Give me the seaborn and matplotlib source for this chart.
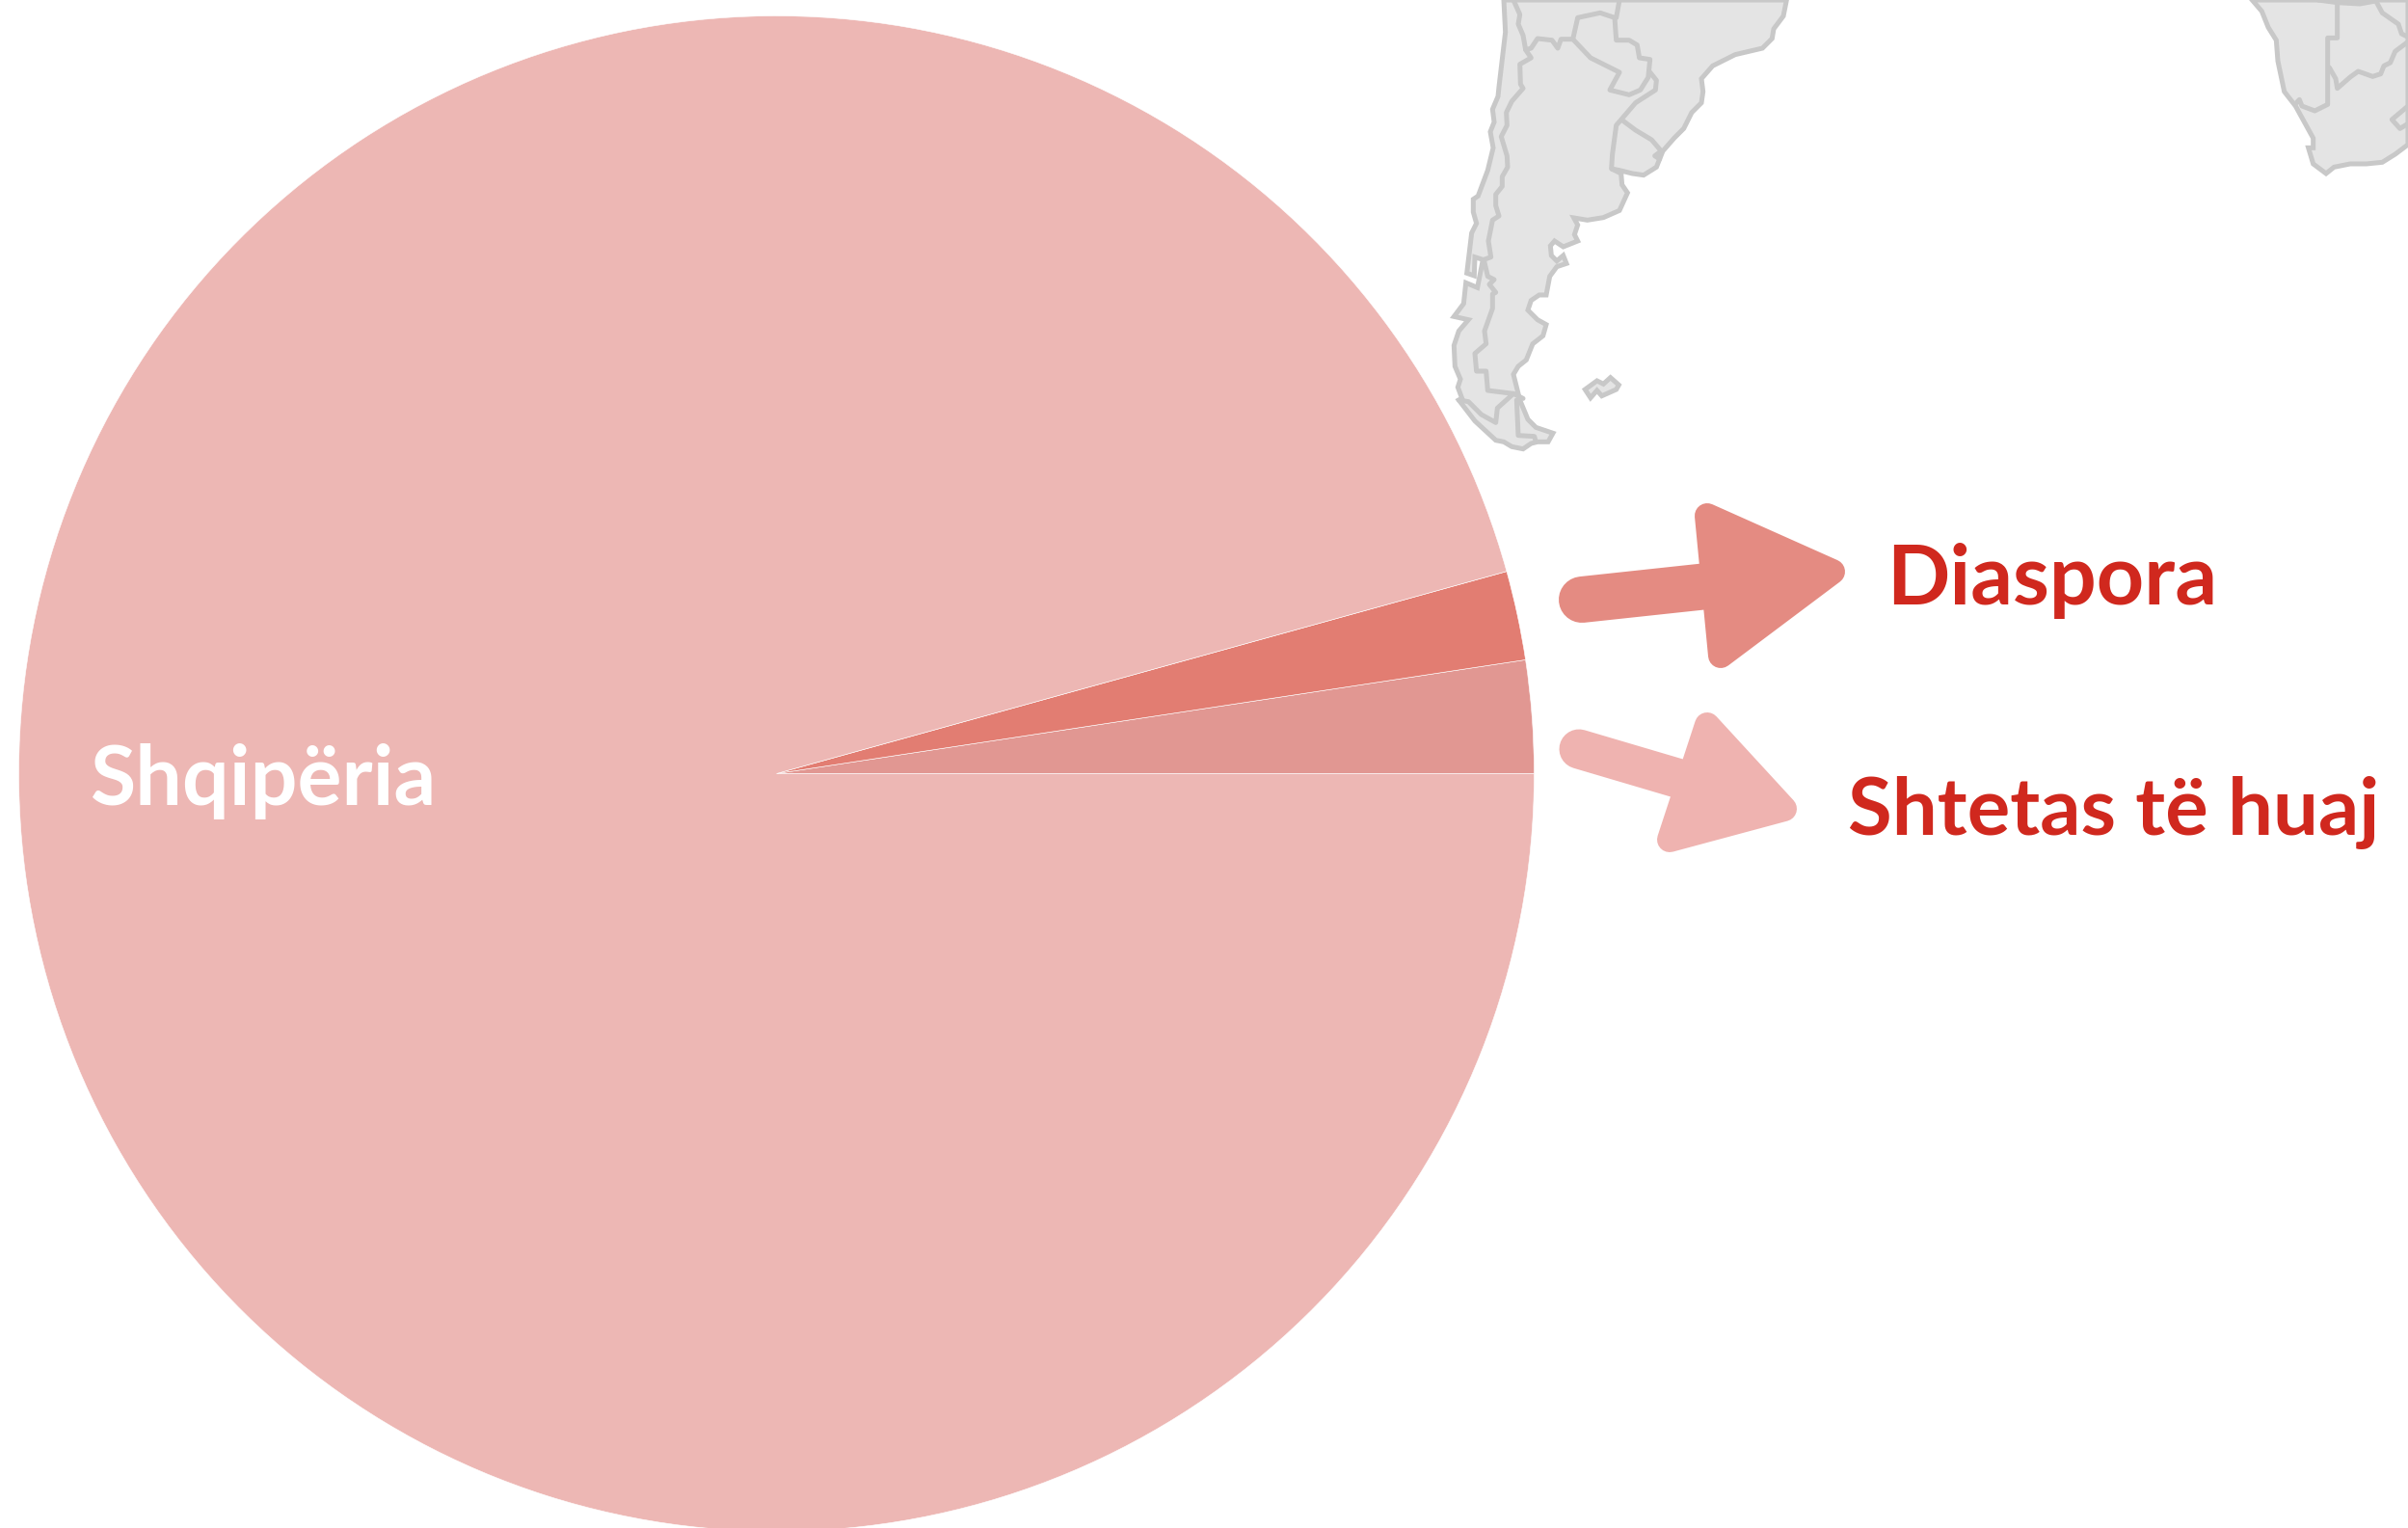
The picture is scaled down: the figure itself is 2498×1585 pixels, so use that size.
"""Pie of Shqipëria / Diaspora / Shtetas të huaj over a faint piece of world map."""
import matplotlib
matplotlib.use("Agg")
import matplotlib.pyplot as plt
import numpy as np
import seaborn as sns

W, H = 2498, 1585

categories = ["Shtetas të huaj", "Diaspora", "Shqipëria"]
values = [2.4, 1.9, 95.7]
slice_colors = ["#E19792", "#E27D72", "#EDB7B4"]

# map outlines, in crop pixels of the reference (3x)
sa_coast = [(240, 0), (245, 100), (225, 270), (222, 300), (205, 340), (210, 380), (198, 410), (207, 460),
            (190, 530), (160, 610), (145, 620), (145, 660), (155, 695), (140, 725), (125, 850), (148, 858),
            (150, 800), (175, 808), (158, 895), (122, 880), (115, 945), (85, 985), (130, 995), (100, 1030),
            (85, 1075), (88, 1140), (105, 1180), (97, 1205), (110, 1240), (100, 1245), (150, 1310),
            (215, 1370), (240, 1375), (265, 1390), (300, 1397), (325, 1380), (345, 1375), (378, 1375),
            (393, 1348), (340, 1330), (315, 1305), (290, 1245), (270, 1165), (285, 1140), (310, 1120),
            (330, 1070), (362, 1045), (372, 1010), (345, 995), (315, 965), (325, 935), (350, 918),
            (372, 918), (383, 860), (405, 830), (435, 820), (425, 795), (405, 812), (388, 795), (385, 765),
            (398, 750), (425, 768), (470, 750), (460, 730), (470, 700), (458, 678), (500, 685), (550, 677),
            (600, 655), (625, 600), (608, 575), (605, 540), (575, 525), (600, 530), (640, 540), (675, 545),
            (715, 520), (735, 470), (770, 430), (800, 400), (825, 350), (855, 320), (860, 285), (855, 245),
            (890, 205), (960, 170), (1045, 150), (1075, 120), (1080, 90), (1110, 50), (1120, 0)]
sa_borders = [
    [(270, 0), (290, 45), (285, 75), (300, 110), (308, 155), (325, 150), (345, 120), (390, 125), (408, 150),
     (418, 122), (455, 122), (470, 55), (540, 40), (585, 55), (590, 125), (630, 125), (655, 140), (662, 180),
     (695, 185), (690, 235)],
    [(455, 122), (510, 180), (600, 225), (570, 280), (630, 295), (665, 280), (690, 240)],
    [(600, 0), (590, 55)],
    [(695, 225), (715, 250), (712, 280), (650, 320), (590, 390), (578, 480), (575, 525)],
    [(610, 375), (650, 405), (700, 435), (730, 470), (710, 485), (725, 495)],
    [(308, 155), (325, 180), (290, 200), (292, 262), (300, 275), (265, 315), (248, 350), (250, 390), (232, 425),
     (250, 485), (252, 520), (235, 550), (235, 580), (215, 605), (215, 640), (225, 672), (205, 685), (192, 750),
     (200, 800), (178, 808), (190, 860), (210, 870), (195, 885), (215, 910), (205, 915), (205, 960), (180, 1030),
     (185, 1070), (150, 1100), (155, 1155), (185, 1155), (190, 1215), (270, 1225), (300, 1240)],
    [(270, 1225), (220, 1270), (215, 1315), (170, 1290), (130, 1250), (100, 1245)],
    [(280, 1245), (285, 1355), (335, 1358), (340, 1375)],
]
falkland = [(493, 1212), (530, 1185), (550, 1195), (572, 1175), (598, 1198), (590, 1212), (545, 1232),
            (530, 1215), (510, 1238)]
africa_coast = [(115, 0), (145, 35), (165, 85), (190, 125), (195, 190), (215, 285), (250, 330), (305, 430),
                (305, 460), (290, 460), (305, 510), (345, 540), (370, 520), (420, 510), (470, 510), (520, 505),
                (560, 480), (600, 450), (600, 0)]
africa_borders = [
    [(320, 0), (380, 8), (450, 12), (500, 3), (520, 40), (570, 75), (580, 105), (600, 115)],
    [(380, 8), (380, 118), (350, 118), (350, 325), (310, 345), (270, 330), (262, 310), (248, 325)],
    [(355, 210), (375, 245), (380, 275), (420, 240), (445, 222), (490, 238), (515, 230), (525, 205),
     (545, 195), (560, 160), (600, 130)],
    [(600, 330), (550, 372), (575, 400), (600, 385)],
]

LAND, BORDER = "#E4E4E4", "#C8C8C8"
RED = "#D0281E"
PX = 72 / 100  # one pixel in points at dpi 100

sns.set_theme(style="white")
plt.rcParams["font.family"] = ["Lato", "DejaVu Sans"]


def crop(points, x0):
    # crop pixels to figure pixels, y flipped so the pie runs counter-clockwise
    p = np.array(points, dtype=float)
    return p[:, 0] / 3 + x0, H - p[:, 1] / 3


def draw_land(ax, coast, borders, x0):
    x, y = crop(coast, x0)
    ax.fill(x, y, fc=LAND, ec=BORDER, lw=5 * PX, zorder=1)
    for line in borders:
        x, y = crop(line, x0)
        ax.plot(x, y, color=BORDER, lw=5 * PX, zorder=2)


def draw_arrow(ax, tail, head, width, color):
    # tail and head in figure pixels; thick round line plus a head with rounded corners
    tx, ty = zip(*tail)
    hx, hy = zip(*head)
    ax.plot(tx, [H - v for v in ty], color=color, lw=width * PX, solid_capstyle="round", zorder=3)
    ax.fill(hx, [H - v for v in hy], fc=color, ec=color, lw=26 * PX, joinstyle="round", zorder=3)


fig = plt.figure(figsize=(W / 100, H / 100), dpi=100)
ax = fig.add_axes([0, 0, 1, 1])

draw_land(ax, sa_coast, sa_borders, 1480)
draw_land(ax, falkland, [], 1480)
draw_land(ax, africa_coast, africa_borders, 2298)

wedges, _ = ax.pie(values, colors=slice_colors, startangle=0, counterclock=True, center=(805.5, H - 802.5),
                   radius=786, wedgeprops=dict(edgecolor="white", linewidth=0.4), frame=True)
for w in wedges:
    w.set_zorder(4)

draw_arrow(ax, [(1641, 622), (1790, 606)], [(1771, 535), (1901, 593), (1785, 680)], 48, "#E48B82")
draw_arrow(ax, [(1638, 777), (1770, 816)], [(1771, 752), (1851, 839), (1732, 871)], 41, "#EFB3B0")

ax.text(1957, H - 627, "Diaspora", color=RED, fontsize=62, fontweight="bold", zorder=5)
ax.text(1917, H - 866, "Shtetas të huaj", color=RED, fontsize=60, fontweight="bold", zorder=5)
ax.text(93, H - 835, "Shqipëria", color="white", fontsize=62, fontweight="bold", zorder=5)

ax.set_xlim(0, W)
ax.set_ylim(0, H)
ax.set_aspect("equal")
ax.axis("off")
fig.savefig("out.png", dpi=100, facecolor="white")
